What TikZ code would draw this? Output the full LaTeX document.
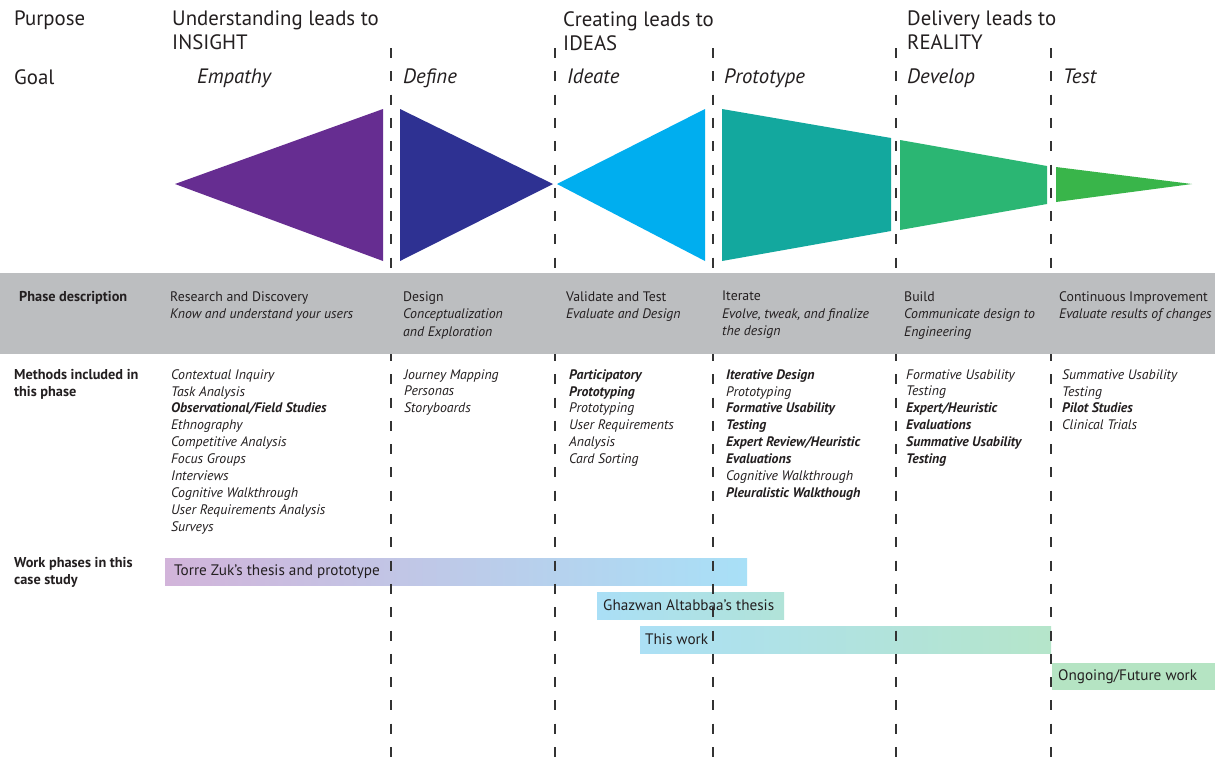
\documentclass[tikz,border=0pt]{standalone}
\usepackage{fontspec}
\setmainfont{PT Sans}
\usepackage{tikz}
\usetikzlibrary{positioning}

\definecolor{ink}{HTML}{231F20}
\definecolor{sepgray}{HTML}{333333}
\definecolor{band}{HTML}{BCBEC0}
\definecolor{empathy}{HTML}{662D91}
\definecolor{define}{HTML}{2E3192}
\definecolor{ideate}{HTML}{00AEEF}
\definecolor{proto}{HTML}{13A89E}
\definecolor{develop}{HTML}{2BB673}
\definecolor{testgreen}{HTML}{39B54A}
\definecolor{torreL}{HTML}{D2B4DA}
\definecolor{torreM}{HTML}{BAB9DC}
\definecolor{torreR}{HTML}{A8E0F7}
\definecolor{ghazL}{HTML}{AADFF6}
\definecolor{ghazR}{HTML}{B1E3D8}
\definecolor{thisL}{HTML}{ACE0F5}
\definecolor{thisR}{HTML}{B5E5CA}
\definecolor{future}{HTML}{B5E4C3}

\tikzset{
  % text styles (all anchored at their top left corner)
  header/.style={anchor=north west,inner sep=0pt,align=left,text=ink,font=\fontsize{20.8}{24}\selectfont},
  goal/.style={header,font=\fontsize{20.8}{24}\selectfont\itshape},
  rowlabel/.style={anchor=north west,inner sep=0pt,align=left,text=ink,font=\fontsize{14.3}{17}\selectfont\bfseries},
  phasetext/.style={anchor=north west,inner sep=0pt,align=left,text=ink,font=\fontsize{13.8}{17.5}\selectfont},
  methods/.style={anchor=north west,inner sep=0pt,align=left,text=ink,font=\fontsize{13.8}{16.9}\selectfont\itshape},
  % work phase bars and their labels
  barlabel/.style={anchor=west,inner sep=0pt,text=ink,font=\fontsize{15.2}{15}\selectfont},
  % dashed lines between the phases
  phasesep/.style={draw=sepgray,line width=1.2pt,dash pattern=on 10pt off 13.3pt},
}

\begin{document}
\begin{tikzpicture}[x=1pt,y=-1pt]
  \useasboundingbox (0,0) rectangle (1215,769);
  \fill[white] (0,0) rectangle (1215,769);

  % phase shapes
  \fill[empathy] (175,184) -- (383,109) -- (383,261) -- cycle;
  \fill[define] (400,109) -- (553,184) -- (400,261) -- cycle;
  \fill[ideate] (557,184) -- (705,109) -- (705,261) -- cycle;
  \fill[proto] (722,109) -- (891,138) -- (891,231) -- (722,261) -- cycle;
  \fill[develop] (900,140) -- (1047,166) -- (1047,204) -- (900,230) -- cycle;
  \fill[testgreen] (1056,167) -- (1192,184) -- (1056,202) -- cycle;

  % work phase bars
  \shade[left color=torreL,middle color=torreM,right color=torreR] (165,558) rectangle (747,585);
  \shade[left color=ghazL,right color=ghazR] (597,592) rectangle (784,619);
  \shade[left color=thisL,right color=thisR] (640,626) rectangle (1051,653);
  \fill[future] (1052,663) rectangle (1215,690);

  \foreach \x in {391,555,713,896,1051}
    \draw[phasesep] (\x,48) -- (\x,769);

  \fill[band] (0,273) rectangle (1215,354);

  % purpose and goal
  \node[header] (purpose) at (14,11) {Purpose};
  \node[header] (insight) at (172,11) {Understanding leads to\\INSIGHT};
  \node[header] (ideas) at (563,11) {Creating leads to\\IDEAS};
  \node[header] (reality) at (907,11) {Delivery leads to\\REALITY};
  \node[header] (goal) at (14,69) {Goal};
  \node[goal] (gempathy) at (197,69) {Empathy};
  \node[goal] (gdefine) at (403,69) {Define};
  \node[goal] (gideate) at (567,69) {Ideate};
  \node[goal] (gproto) at (724,69) {Prototype};
  \node[goal] (gdevelop) at (907,69) {Develop};
  \node[goal] (gtest) at (1063,69) {Test};

  % phase description
  \node[rowlabel] (phaselbl) at (19,290.7) {Phase description};
  \node[phasetext] (dempathy) at (170,291.1) {Research and Discovery\\\textit{Know and understand your users}};
  \node[phasetext] (ddefine) at (403,291.1) {Design\\\textit{Conceptualization}\\\textit{and Exploration}};
  \node[phasetext] (dideate) at (566,291.1) {Validate and Test\\\textit{Evaluate and Design}};
  \node[phasetext] (dproto) at (722,291.1) {Iterate\\\textit{Evolve, tweak, and finalize}\\\textit{the design}};
  \node[phasetext] (ddevelop) at (904,291.1) {Build\\\textit{Communicate design to}\\\textit{Engineering}};
  \node[phasetext] (dtest) at (1059,291.1) {Continuous Improvement\\\textit{Evaluate results of changes}};

  % methods
  \node[rowlabel] (methodlbl) at (14,368.7) {Methods included in\\this phase};
  \node[methods] (mempathy) at (171,369.1) {Contextual Inquiry\\Task Analysis\\\textbf{Observational/Field Studies}\\Ethnography\\Competitive Analysis\\Focus Groups\\Interviews\\Cognitive Walkthrough\\User Requirements Analysis\\Surveys};
  \node[methods] (mdefine) at (404,369.1) {Journey Mapping\\Personas\\Storyboards};
  \node[methods] (mideate) at (569,369.1) {\textbf{Participatory}\\\textbf{Prototyping}\\Prototyping\\User Requirements\\Analysis\\Card Sorting};
  \node[methods] (mproto) at (726,369.1) {\textbf{Iterative Design}\\Prototyping\\\textbf{Formative Usability}\\\textbf{Testing}\\\textbf{Expert Review/Heuristic}\\\textbf{Evaluations}\\Cognitive Walkthrough\\\textbf{Pleuralistic Walkthough}};
  \node[methods] (mdevelop) at (906,369.1) {Formative Usability\\Testing\\\textbf{Expert/Heuristic}\\\textbf{Evaluations}\\\textbf{Summative Usability}\\\textbf{Testing}};
  \node[methods] (mtest) at (1062,369.1) {Summative Usability\\Testing\\\textbf{Pilot Studies}\\Clinical Trials};

  % work phases
  \node[rowlabel] (worklbl) at (14,556.7) {Work phases in this\\case study};
  \node[barlabel] (torre) at (174,571.5) {Torre Zuk's thesis and prototype};
  \node[barlabel] (ghazwan) at (603,605.5) {Ghazwan Altabbaa's thesis};
  \node[barlabel] (thiswork) at (645,639.5) {This work};
  \node[barlabel] (ongoing) at (1058,676.5) {Ongoing/Future work};
\end{tikzpicture}
\end{document}
